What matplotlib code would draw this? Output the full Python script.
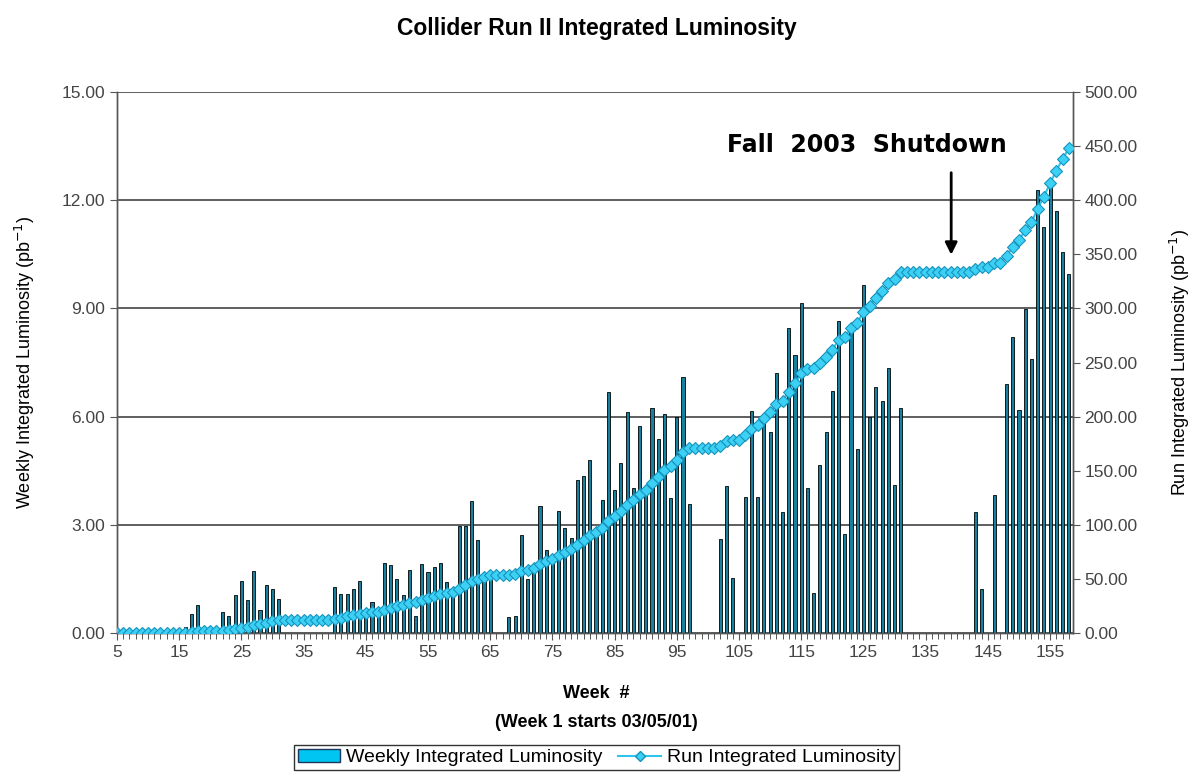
import matplotlib.pyplot as plt
from matplotlib.patches import Patch
from matplotlib.lines import Line2D
from matplotlib.ticker import FixedLocator, FormatStrFormatter
import numpy as np

plt.rcParams['font.family'] = ['Liberation Sans', 'DejaVu Sans']

# weeks 5 .. 158, weekly integrated luminosity (pb^-1)
weeks = list(range(5, 159))
weekly = [
    # 5-15
    0, 0, 0, 0, 0, 0, 0, 0, 0, 0, 0,
    # 16-31
    0.17, 0.53, 0.78, 0, 0, 0, 0.59, 0.47, 1.05, 1.45, 0.91, 1.72, 0.64, 1.33, 1.21, 0.94,
    # 32-39
    0, 0, 0, 0, 0, 0, 0, 0,
    # 40-65
    1.28, 1.08, 1.08, 1.21, 1.45, 0.50, 0.87, 0.45, 1.93, 1.89, 1.49, 1.05, 1.75,
    0.47, 1.91, 1.70, 1.84, 1.95, 1.42, 1.00, 2.97, 2.97, 3.66, 2.58, 1.63, 1.50,
    # 66-67
    0, 0,
    # 68-97
    0.43, 0.47, 2.72, 1.50, 1.90, 3.52, 2.30, 2.10, 3.38, 2.92, 2.62, 4.23, 4.36,
    4.79, 2.90, 3.69, 6.69, 3.96, 4.70, 6.14, 4.01, 5.74, 4.05, 6.23, 5.37, 6.06,
    3.73, 6.00, 7.11, 3.58,
    # 98-101
    0, 0, 0, 0,
    # 102-131
    2.60, 4.08, 1.52, 0, 3.78, 6.16, 3.78, 5.90, 5.58, 7.22, 3.36, 8.45, 7.71, 9.14,
    4.01, 1.10, 4.66, 5.56, 6.71, 8.65, 2.74, 8.49, 5.09, 9.65, 5.98, 6.83, 6.44,
    7.35, 4.09, 6.25,
    # 132-142
    0, 0, 0, 0, 0, 0, 0, 0, 0, 0, 0,
    # 143-158
    3.35, 1.23, 0, 3.82, 0, 6.91, 8.22, 6.18, 8.97, 7.60, 12.28, 11.27, 12.38,
    11.69, 10.56, 9.95,
]
# run integrated luminosity is the running total of the weekly values
run_total = np.cumsum(weekly)

fig = plt.figure(figsize=(11.93, 7.8), dpi=100)
ax = fig.add_axes([0.098, 0.1885, 0.801, 0.6935])
ax2 = ax.twinx()

ax.bar(weeks, weekly, width=0.5, facecolor='#17809f', edgecolor='black', linewidth=0.6, zorder=2)
ax2.plot(weeks, run_total, color='#2ec4ec', linewidth=1.5, marker='D', markersize=6.5,
         markerfacecolor='#3dd0f5', markeredgecolor='#1593bd', markeredgewidth=0.8, zorder=3)

ax.set_xlim(5, 158.6)
ax.set_ylim(0, 15)
ax2.set_ylim(0, 500)

ax.yaxis.set_major_locator(FixedLocator(np.arange(0, 15.01, 3)))
ax.yaxis.set_major_formatter(FormatStrFormatter('%.2f'))
ax2.yaxis.set_major_locator(FixedLocator(np.arange(0, 500.01, 50)))
ax2.yaxis.set_major_formatter(FormatStrFormatter('%.2f'))
ax.xaxis.set_major_locator(FixedLocator(range(5, 159, 10)))
ax.xaxis.set_minor_locator(FixedLocator(weeks))

ax.grid(axis='y', color='#333333', linewidth=1.1, zorder=0)
ax.set_axisbelow(True)

for a in (ax, ax2):
    a.tick_params(axis='both', which='major', labelsize=12.5, labelcolor='#444444',
                  length=5, width=0.8, color='#555555', direction='out')
    a.tick_params(axis='x', which='minor', length=4, width=0.7, color='#555555')
    a.spines['top'].set_visible(False)
    for s in ('left', 'right', 'bottom'):
        a.spines[s].set_color('#555555')
        a.spines[s].set_linewidth(1.0)

fig.text(0.5, 0.963, 'Collider Run II Integrated Luminosity', ha='center', va='center',
         fontsize=16.5, fontweight='bold')
fig.text(0.021, 0.536, 'Weekly Integrated Luminosity (pb$^{-1}$)', rotation=90,
         ha='center', va='center', fontsize=13)
fig.text(0.989, 0.536, 'Run Integrated Luminosity (pb$^{-1}$)', rotation=90,
         ha='center', va='center', fontsize=13)
fig.text(0.5, 0.111, 'Week  #', ha='center', va='center', fontsize=13, fontweight='bold')
fig.text(0.5, 0.074, '(Week 1 starts 03/05/01)', ha='center', va='center',
         fontsize=13, fontweight='bold')

ax2.annotate('', xy=(139.1, 347), xytext=(139.1, 428),
             arrowprops=dict(arrowstyle='-|>', color='black', lw=2, mutation_scale=18))
ax2.text(125.5, 451, 'Fall  2003  Shutdown', ha='center', va='center',
         fontsize=17, fontweight='bold', family=['DejaVu Sans'])

handles = [
    Patch(facecolor='#00c4f2', edgecolor='#1a3a5a', linewidth=1),
    Line2D([], [], color='#2ec4ec', linewidth=1.5, marker='D', markersize=5,
           markerfacecolor='#3dd0f5', markeredgecolor='#1593bd'),
]
fig.legend(handles, ['Weekly Integrated Luminosity', 'Run Integrated Luminosity'],
           loc='lower center', bbox_to_anchor=(0.5, 0.0), ncol=2, fontsize=14,
           frameon=True, fancybox=False, edgecolor='#333333', framealpha=1,
           borderpad=0.2, handlelength=2.2, handletextpad=0.3, columnspacing=0.8)

fig.savefig('out.png', dpi=100)
